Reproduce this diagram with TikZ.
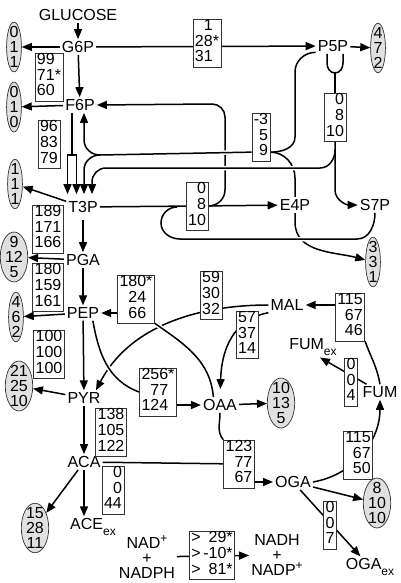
\documentclass[tikz,border=0pt]{standalone}
\usepackage{fontspec}
\setmainfont{Liberation Sans}
\usetikzlibrary{arrows.meta,shapes.geometric,backgrounds}
\newcommand{\subtxt}[1]{\raisebox{-0.35em}{\fontsize{12}{12}\selectfont #1}}
\newcommand{\suptxt}[1]{\raisebox{0.4em}{\fontsize{12}{12}\selectfont #1}}
\newcommand{\flux}[3]{\begin{tabular}{@{}r@{}l@{}}#1\\#2\\#3\end{tabular}}

\begin{document}
\begin{tikzpicture}[x=1pt,y=-1pt,>={Triangle[length=10pt,width=8pt]},
	every node/.style={font=\fontsize{16}{15}\selectfont,inner sep=2pt},
	flx/.style={draw=black!80,line width=0.7pt,fill=white,inner xsep=2pt,inner ysep=0.5pt},
	bio/.style={draw=black!80,line width=0.7pt,ellipse,fill=black!12,align=center,inner xsep=0.8pt,inner ysep=-3pt},
	over/.style={preaction={draw=white,line width=4.5pt,-}}]
\useasboundingbox (0,0) rectangle (400,583);
\path (78,15) node (glc) {GLUCOSE}
	(78,47) node (g6p) {G6P}
	(80,105) node (f6p) {F6P}
	(83,207) node[inner ysep=7pt] (t3p) {T3P}
	(83,260) node (pga) {PGA}
	(83,313) node (pep) {PEP}
	(84,398) node (pyr) {PYR}
	(84,462) node (aca) {ACA}
	(93,527) node (acex) {ACE\subtxt{ex}}
	(333,46) node (p5p) {P5P}
	(295,205) node[fill=white] (e4p) {E4P}
	(375,205) node (s7p) {S7P}
	(287,305) node (mal) {MAL}
	(220,405) node (oaa) {OAA}
	(380,392) node (fum) {FUM}
	(313,347) node (fumex) {FUM\subtxt{ex}}
	(293,482) node (oga) {OGA}
	(370,567) node (ogaex) {OGA\subtxt{ex}}
	(147,557) node[align=center] (nad) {NAD\suptxt{+}\\+\\NADPH}
	(277,555) node[align=center] (nadh) {NADH\\+\\NADP\suptxt{+}};
\path (207,43) node[flx] (r1) {\flux{1&}{28&*}{31&}}
	(49,77) node[flx] (r2) {\flux{99&}{71&*}{60&}}
	(49,144) node[flx] (r3) {\flux{96}{83}{79}}
	(261,137) node[flx] (r4) {\flux{-3}{5}{9}}
	(335,117) node[flx] (r5) {\flux{0}{8}{10}}
	(197,206) node[flx] (r6) {\flux{0}{8}{10}}
	(48,229) node[flx] (r7) {\flux{189}{171}{166}}
	(48,287) node[flx] (r8) {\flux{180}{159}{161}}
	(136,299) node[flx] (r9) {\flux{180&*}{24&}{66&}}
	(211,295) node[flx] (r10) {\flux{59}{30}{32}}
	(350,317) node[flx] (r11) {\flux{115}{67}{46}}
	(247,335) node[flx] (r12) {\flux{57}{37}{14}}
	(351,382) node[flx] (r13) {\flux{0}{0}{4}}
	(49,354) node[flx] (r14) {\flux{100}{100}{100}}
	(158,392) node[flx] (r15) {\flux{256&*}{77&}{124&}}
	(111,432) node[flx] (r16) {\flux{138}{105}{122}}
	(113,490) node[flx] (r17) {\flux{0}{0}{44}}
	(239,464) node[flx] (r18) {\flux{123}{77}{67}}
	(358,455) node[flx] (r19) {\flux{115}{67}{50}}
	(330,525) node[flx] (r20) {\flux{0}{0}{7}}
	(212,555) node[flx] (r21) {\begin{tabular}{@{}l@{\,}r@{}l@{}}>&29&*\\>&-10&*\\>&81&*\end{tabular}};
\path (14,47) node[bio] (b1) {0\\1\\1}
	(14,107) node[bio] (b2) {0\\1\\0}
	(15,184) node[bio] (b3) {1\\1\\1}
	(14,257) node[bio] (b4) {9\\12\\5}
	(16,317) node[bio] (b5) {4\\6\\2}
	(19,386) node[bio] (b6) {21\\25\\10}
	(35,528) node[bio] (b7) {15\\28\\11}
	(378,48) node[bio] (b8) {4\\7\\2}
	(373,262) node[bio] (b9) {3\\3\\1}
	(281,403) node[bio] (b10) {10\\13\\5}
	(377,503) node[bio] (b11) {8\\10\\10};
\coordinate (fork) at (335,73);
\begin{scope}[on background layer={line width=1.5pt}]
\draw[->] (glc) -- (g6p);
\draw[->] (g6p) -- (b1);
\draw[->] (g6p) -- (p5p);
\draw[->] (p5p) -- (b8);
\draw[->] (g6p) -- (f6p);
\draw[->] (f6p) -- (b2);
\draw (f6p.south -| 72,0) -- (72,155);
\draw[<->] (t3p.north -| 67.5,0) -- (67.5,155) -- (76.5,155) -- (t3p.north -| 76.5,0);
\draw[->] (r4.302) to[out=0,in=90] (295,178) -- (295,222) to[out=270,in=165] (b9);
\draw[->] (r6.east) to[out=0,in=270] (225,190) -- (225,117) to[out=90,in=0] (212,104) -- (f6p.east);
\draw[->,over] (335,150) to[out=270,in=0] (320,168) -- (106,168) to[out=180,in=90] (92,182) -- (t3p.north -| 92,0);
\draw[->] (r5) -- (335,190) to[out=270,in=180] (s7p.west);
\draw (p5p.south -| 327,0) -- (327,63) to[out=270,in=180] (fork) to[out=0,in=270] (343,63) -- (p5p.south -| 343,0);
\draw (fork) -- (r5);
\draw[->,over] (r4.238) -- (100,155) to[out=180,in=270] (84,140) -- (f6p.south -| 84,0);
\draw[->] (100,155) to[out=180,in=90] (84,170) -- (t3p.north -| 84,0);
\draw (p5p.200) to[out=180,in=90] (295,72) -- (295,137) to[out=270,in=0] (r4.302);
\draw[over] (s7p.south) to[out=270,in=0] (357,239) -- (180,239) to[out=180,in=270] (161,223) to[out=90,in=180] (t3p.east -| 177,0);
\draw (t3p) -- (r6);
\draw[->] (r6) -- (e4p);
\draw[->] (t3p) -- (b3);
\draw[->] (t3p) -- (pga);
\draw[->] (pga) -- (b4);
\draw[->] (pga) -- (pep);
\draw[->] (pep) -- (b5);
\draw[->] (pep) -- (pyr);
\draw[->] (pyr) -- (b6);
\draw[->] (pyr) -- (aca);
\draw[->] (aca) -- (b7);
\draw[->] (aca.south) -- (aca.south |- acex.north);
\draw[->] (mal.west) .. controls (200,305) and (130,325) .. (pyr.north -| 96,0);
\draw[->] (r9 |- pep) -- (pep);
\draw[over] (pep.-38) to[out=-80,in=160] (r15.west);
\draw[over] (r9.south east) to[out=-35,in=95] (oaa.130);
\draw[->] (r15 |- oaa) -- (oaa);
\draw[->] (oaa) -- (b10);
\draw[->,shorten >=8pt] (mal.south west) .. controls (240,318) and (222,340) .. (oaa.north);
\draw (fum.north) to[out=100,in=-70] (r11.south east);
\draw[->] (r11 |- mal) -- (mal);
\draw[->] (fum.150) -- (fumex.south -| 320,0);
\draw (oaa.south) to[out=270,in=130] (r18.north west);
\draw (aca) -- (r18);
\draw[->] (r18 |- oga) -- (oga);
\draw[->] (oga.east) to[out=10,in=270] (fum.south);
\draw[->] (oga) -- (b11);
\draw[->] (oga) -- (ogaex);
\draw[->] (nad) -- (nadh);
\end{scope}
\end{tikzpicture}
\end{document}
